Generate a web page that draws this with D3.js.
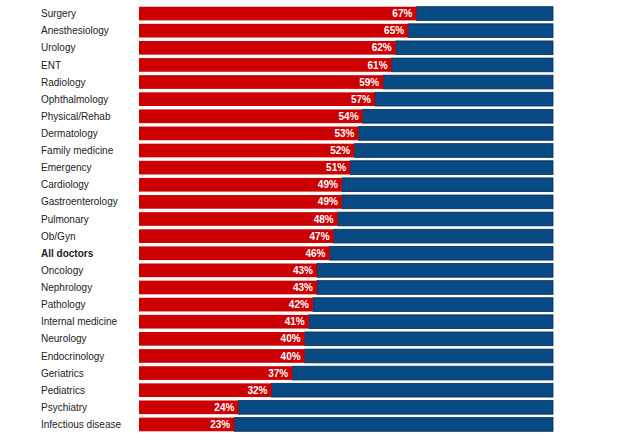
<!DOCTYPE html>
<html>
<head>
<meta charset="utf-8">
<script src="https://cdn.jsdelivr.net/npm/d3@7"></script>
<style>
  body { margin: 0; background: #fff; }
  svg text { font-family: "Liberation Sans", Arial, sans-serif; }
</style>
</head>
<body>
<div id="chart"></div>
<script>
const specialties = [
    "Surgery", "Anesthesiology", "Urology", "ENT", "Radiology", "Ophthalmology",
    "Physical/Rehab", "Dermatology", "Family medicine", "Emergency", "Cardiology",
    "Gastroenterology", "Pulmonary", "Ob/Gyn", "All doctors", "Oncology", "Nephrology",
    "Pathology", "Internal medicine", "Neurology", "Endocrinology", "Geriatrics",
    "Pediatrics", "Psychiatry", "Infectious disease"
];
const shares = [67, 65, 62, 61, 59, 57, 54, 53, 52, 51, 49, 49, 48, 47, 46, 43, 43, 42, 41, 40, 40, 37, 32, 24, 23];

const data = specialties.map((name, i) => ({ name, value: shares[i] }));

const width = 620, height = 440;
const margin = { top: 5, right: 67, bottom: 7, left: 139 };

const svg = d3.select("#chart").append("svg")
    .attr("width", width)
    .attr("height", height);

const x = d3.scaleLinear()
    .domain([0, 100])
    .range([margin.left, width - margin.right]);

const y = d3.scaleBand()
    .domain(specialties)
    .range([margin.top, height - margin.bottom])
    .paddingInner(0.2)
    .paddingOuter(0.1);

// blue background (remaining share)
svg.selectAll(".rest")
    .data(data)
    .enter().append("rect")
    .attr("class", "rest")
    .attr("x", d => x(d.value))
    .attr("y", d => y(d.name))
    .attr("width", d => x(100) - x(d.value))
    .attr("height", y.bandwidth())
    .attr("fill", "#084a83")
    .attr("stroke", "#032d55")
    .attr("stroke-width", 0.8);

svg.selectAll(".bar")
    .data(data)
    .enter().append("rect")
    .attr("class", "bar")
    .attr("x", x(0))
    .attr("y", d => y(d.name))
    .attr("width", d => x(d.value) - x(0))
    .attr("height", y.bandwidth())
    .attr("fill", "#cc0000");

svg.selectAll(".value")
    .data(data)
    .enter().append("text")
    .attr("class", "value")
    .attr("x", d => x(d.value) - 4)
    .attr("y", d => y(d.name) + y.bandwidth() / 2)
    .attr("dy", "0.36em")
    .style("text-anchor", "end")
    .style("font-size", "10px")
    .style("font-weight", "bold")
    .style("fill", "#fff")
    .text(d => d.value + "%");

svg.selectAll(".label")
    .data(data)
    .enter().append("text")
    .attr("class", "label")
    .attr("x", 41)
    .attr("y", d => y(d.name) + y.bandwidth() / 2)
    .attr("dy", "0.36em")
    .style("font-size", "10px")
    .style("font-weight", d => d.name === "All doctors" ? "bold" : "normal")
    .style("fill", "#222")
    .text(d => d.name);
</script>
</body>
</html>
